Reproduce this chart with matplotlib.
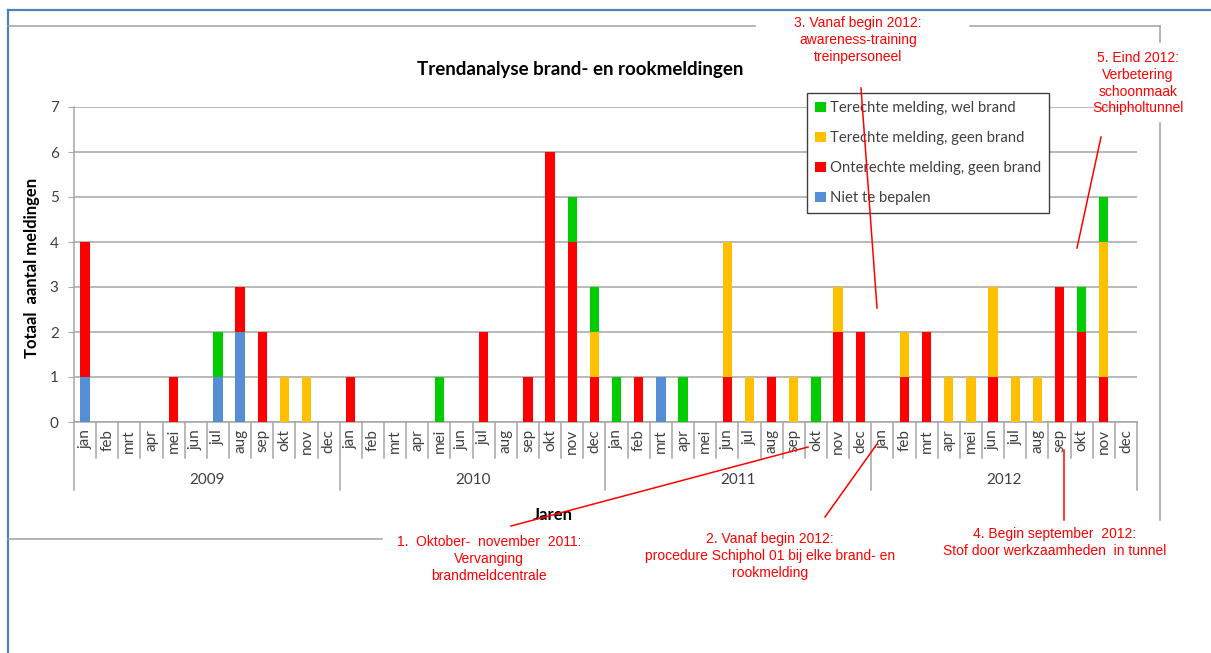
import matplotlib
matplotlib.use('Agg')
import matplotlib.pyplot as plt
from matplotlib.lines import Line2D
from matplotlib.patches import Patch
from matplotlib.transforms import blended_transform_factory

# ---------------- data ----------------
years = ['2009', '2010', '2011', '2012']
months = ['jan', 'feb', 'mrt', 'apr', 'mei', 'jun', 'jul', 'aug', 'sep', 'okt', 'nov', 'dec']

niet_te_bepalen = ([1, 0, 0, 0, 0, 0, 1, 2, 0, 0, 0, 0] +
                   [0, 0, 0, 0, 0, 0, 0, 0, 0, 0, 0, 0] +
                   [0, 0, 1, 0, 0, 0, 0, 0, 0, 0, 0, 0] +
                   [0, 0, 0, 0, 0, 0, 0, 0, 0, 0, 0, 0])
onterecht_geen_brand = ([3, 0, 0, 0, 1, 0, 0, 1, 2, 0, 0, 0] +
                        [1, 0, 0, 0, 0, 0, 2, 0, 1, 6, 4, 1] +
                        [0, 1, 0, 0, 0, 1, 0, 1, 0, 0, 2, 2] +
                        [0, 1, 2, 0, 0, 1, 0, 0, 3, 2, 1, 0])
terecht_geen_brand = ([0, 0, 0, 0, 0, 0, 0, 0, 0, 1, 1, 0] +
                      [0, 0, 0, 0, 0, 0, 0, 0, 0, 0, 0, 1] +
                      [0, 0, 0, 0, 0, 3, 1, 0, 1, 0, 1, 0] +
                      [0, 1, 0, 1, 1, 2, 1, 1, 0, 0, 3, 0])
terecht_wel_brand = ([0, 0, 0, 0, 0, 0, 1, 0, 0, 0, 0, 0] +
                     [0, 0, 0, 0, 1, 0, 0, 0, 0, 0, 1, 1] +
                     [1, 0, 0, 1, 0, 0, 0, 0, 0, 1, 0, 0] +
                     [0, 0, 0, 0, 0, 0, 0, 0, 0, 1, 1, 0])

series_labels = ['Niet te bepalen', 'Onterechte melding, geen brand',
                 'Terechte melding, geen brand', 'Terechte melding, wel brand']
series_colors = ['#558ED5', '#FF0000', '#FFC000', '#00CC00']

# ---------------- figure ----------------
W, H = 1211, 653
plt.rcParams['font.family'] = ['Lato', 'DejaVu Sans']
fig = plt.figure(figsize=(W / 100, H / 100), dpi=100)
fig.patch.set_facecolor('white')


def P(x, y):
    return (x / W, 1 - y / H)


AX_L, AX_R, AX_T, AX_B = 74, 1137, 107, 422
ax = fig.add_axes([AX_L / W, 1 - AX_B / H, (AX_R - AX_L) / W, (AX_B - AX_T) / H])

n = len(months) * len(years)
x = list(range(n))
bottom = [0] * n
for vals, lab, col in zip([niet_te_bepalen, onterecht_geen_brand, terecht_geen_brand, terecht_wel_brand],
                          series_labels, series_colors):
    ax.bar(x, vals, width=0.42, bottom=bottom, color=col, label=lab, zorder=3)
    bottom = [b + v for b, v in zip(bottom, vals)]

ax.set_xlim(-0.5, n - 0.5)
ax.set_ylim(0, 7)
ax.set_yticks(range(8))
ax.yaxis.grid(True, color='#A6A6A6', linewidth=1.1, zorder=0)
ax.set_axisbelow(True)
for s in ['top', 'right']:
    ax.spines[s].set_visible(False)
ax.spines['left'].set_color('#A6A6A6')
ax.spines['bottom'].set_color('#A6A6A6')
ax.spines['left'].set_linewidth(1.1)
ax.spines['bottom'].set_linewidth(1.1)
ax.tick_params(axis='y', length=4, color='#A6A6A6', labelsize=11, labelcolor='#404040', pad=7)
ax.set_xticks(x)
ax.set_xticklabels(months * len(years), rotation=90, fontsize=11, color='#404040')
ax.tick_params(axis='x', length=0, pad=5)


def ay(ypix):
    return (AX_B - ypix) / (AX_B - AX_T)


tr = blended_transform_factory(ax.transData, ax.transAxes)
for i in range(n + 1):
    xb = i - 0.5
    low = 490 if i % 12 == 0 else 458
    ax.add_line(Line2D([xb, xb], [0, ay(low)], transform=tr, color='#A6A6A6', lw=1.1, clip_on=False))
for k, yr in enumerate(years):
    ax.text(k * 12 + 5.5, ay(480), yr, transform=tr, ha='center', va='center', fontsize=11, color='#404040')

# titles
fig.text(*P(580, 70), 'Trendanalyse brand- en rookmeldingen', ha='center', va='center',
         fontsize=13.5, fontweight='bold', color='black')
fig.text(*P(32, 268), 'Totaal  aantal meldingen', rotation=90, ha='center', va='center',
         fontsize=12, fontweight='bold', color='black')
fig.text(*P(553, 515), 'Jaren', ha='center', va='center', fontsize=12, fontweight='bold', color='black')

# legend
handles = [Patch(facecolor=c, edgecolor='none') for c in series_colors][::-1]
labels = series_labels[::-1]
leg = fig.legend(handles, labels, loc='upper left', bbox_to_anchor=P(807, 93), fontsize=10.7,
                 frameon=True, fancybox=False, edgecolor='#404040', framealpha=1,
                 handlelength=0.7, handleheight=0.7, handletextpad=0.3, labelspacing=1.08,
                 borderpad=0.55, borderaxespad=0)
leg.get_frame().set_linewidth(1.0)
for t in leg.get_texts():
    t.set_color('#404040')

# frame decoration lines (figure pixels)
def fline(xs, ys, color, lw, z=2):
    fig.add_artist(Line2D([xx / W for xx in xs], [1 - yy / H for yy in ys],
                          transform=fig.transFigure, color=color, lw=lw, zorder=z))


fline([8, W], [10, 10], '#4F81BD', 1.6)
fline([8, 8], [10, H], '#4F81BD', 1.6)
fline([8, 755], [26, 26], '#A0A0A0', 1.1)
fline([970, 1160], [26, 26], '#A0A0A0', 1.1)
fline([1160, 1160], [26, 42], '#A0A0A0', 1.1)
fline([1160, 1160], [123, 520], '#A0A0A0', 1.1)
fline([8, 382], [539, 539], '#A0A0A0', 1.1)

# red annotations
afont = ['Liberation Sans Narrow', 'Liberation Sans', 'DejaVu Sans']
red = '#FF0000'
ann_texts = [
    ('1.  Oktober-  november  2011:\nVervanging\nbrandmeldcentrale', 489, 535),
    ('2. Vanaf begin 2012:\nprocedure Schiphol 01 bij elke brand- en\nrookmelding', 770, 532),
    ('3. Vanaf begin 2012:\nawareness-training\ntreinpersoneel', 858, 16),
    ('4. Begin september  2012:\nStof door werkzaamheden  in tunnel', 1055, 527),
    ('5. Eind 2012:\nVerbetering\nschoonmaak\nSchipholtunnel', 1138, 51),
]
for txt, tx, ty in ann_texts:
    fig.text(*P(tx, ty), txt, ha='center', va='top', fontsize=10, color=red,
             family=afont, linespacing=1.25)

fline([511, 808], [526, 447], red, 1.1, 10)
fline([825, 877], [517, 444], red, 1.1, 10)
fline([861, 877], [88, 308], red, 1.1, 10)
fline([1064, 1064], [450, 520], red, 1.1, 10)
fline([1101, 1077], [137, 248], red, 1.1, 10)

fig.savefig('out.png', dpi=100)
